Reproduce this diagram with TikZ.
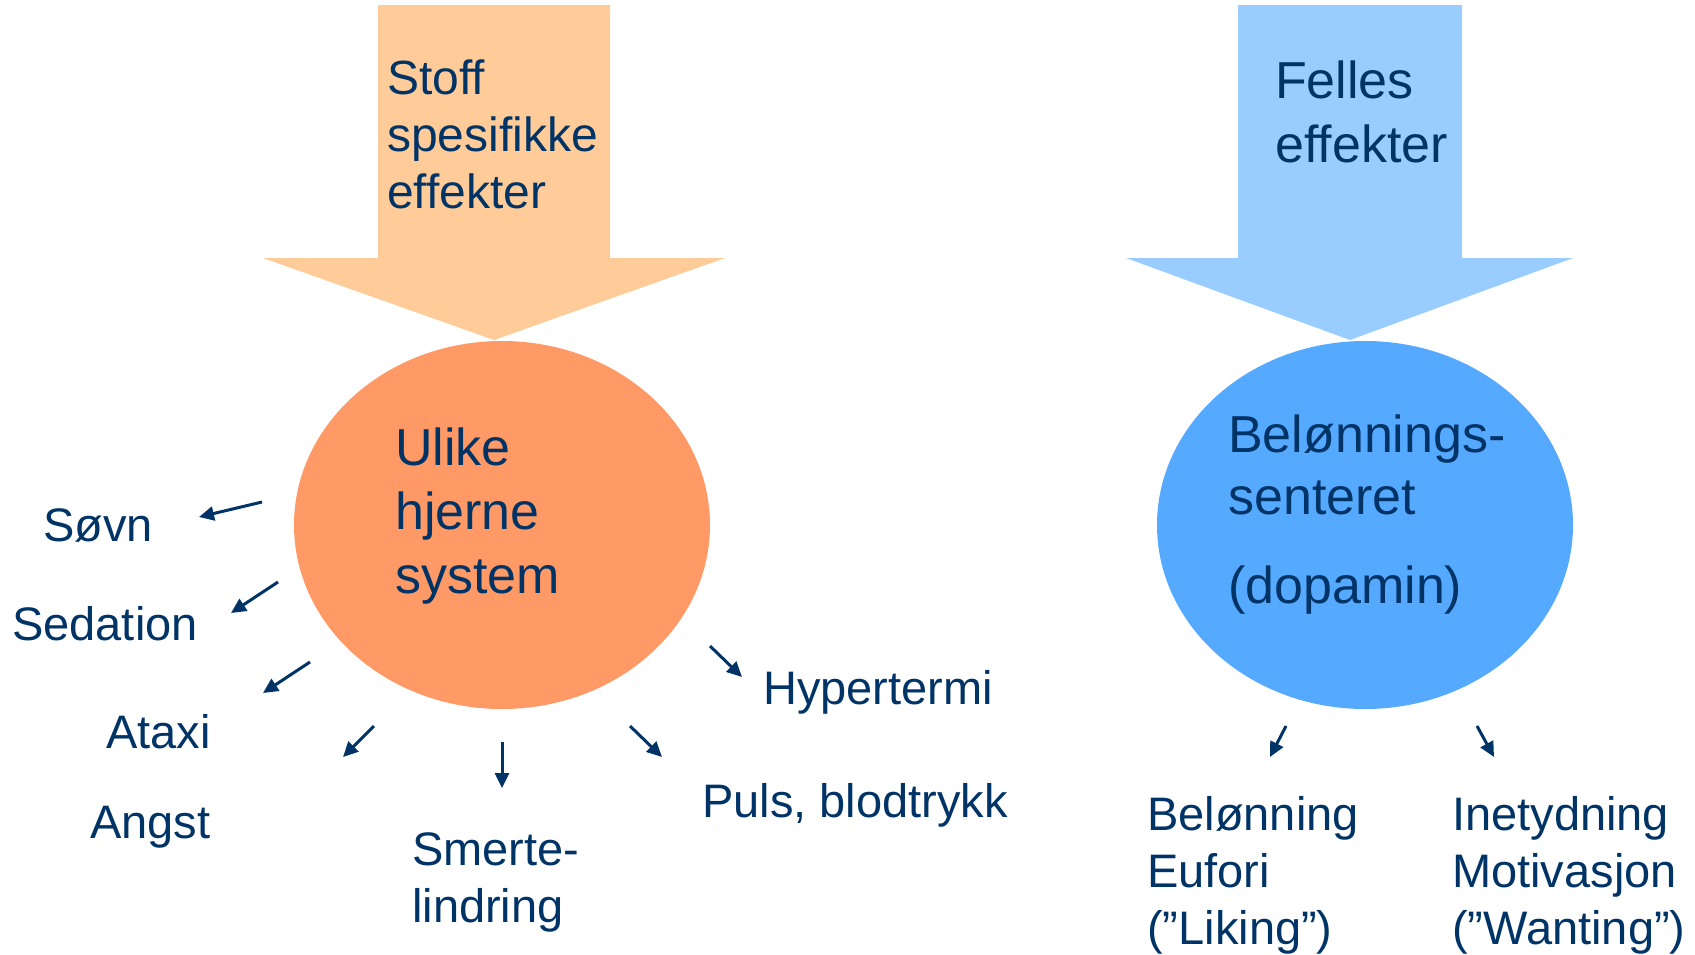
\documentclass[tikz,border=0pt]{standalone}
\usepackage{fontspec}
\setmainfont{Liberation Sans}
\usetikzlibrary{arrows.meta,shapes.geometric}
\definecolor{txt}{HTML}{003366}
\definecolor{lorange}{HTML}{FFCC99}
\definecolor{dorange}{HTML}{FF9966}
\definecolor{lblue}{HTML}{99CCFF}
\definecolor{dblue}{HTML}{55AAFF}
\begin{document}
\begin{tikzpicture}[x=1pt,y=-1pt,
  lbl/.style={inner sep=0pt, anchor=base west, align=left, text=txt, font=\fontsize{47}{57}\selectfont},
  big/.style={lbl, font=\fontsize{52}{64}\selectfont},
  blob/.style={ellipse, inner sep=0pt, minimum width=416pt, minimum height=368pt},
  eff/.style={draw=txt, line width=3pt, -{Triangle[length=15pt,width=14pt]}},
]
\useasboundingbox (0,0) rectangle (1695,954);
% big arrows
\fill[lorange] (378,5) -- (610,5) -- (610,258) -- (725,258) -- (494,340) -- (263,258) -- (378,258) -- cycle;
\fill[lblue] (1238,5) -- (1462,5) -- (1462,258) -- (1573,258) -- (1350,340) -- (1126,258) -- (1238,258) -- cycle;
% ellipses
\node[blob, fill=dorange] (sys) at (502,525) {};
\node[blob, fill=dblue] (bel) at (1365,525) {};
% texts (base anchor = baseline of the last line)
\node[lbl, font=\fontsize{48}{57}\selectfont] (stoff) at (387,208) {Stoff\\spesifikke\\effekter};
\node[big] (felles) at (1275,162) {Felles\\effekter};
\node[big] (ulike) at (395,593) {Ulike\\hjerne\\system};
\node[big, font=\fontsize{52}{62}\selectfont] (belt) at (1228,603) {Belønnings-\\senteret\\[27pt](dopamin)};
\node[lbl] (sovn) at (43,541) {Søvn};
\node[lbl] (sed) at (12,640) {Sedation};
\node[lbl] (ataxi) at (106,748) {Ataxi};
\node[lbl] (angst) at (90,838) {Angst};
\node[lbl] (smerte) at (412,922) {Smerte-\\lindring};
\node[lbl] (puls) at (702,817) {Puls, blodtrykk};
\node[lbl] (hyper) at (763,704) {Hypertermi};
\node[lbl] (like) at (1147,944) {Belønning\\Eufori\\(”Liking”)};
\node[lbl] (want) at (1452,944) {Inetydning\\Motivasjon\\(”Wanting”)};
% small arrows
\coordinate (a1s) at (262,502); \coordinate (a1e) at (199,517);
\coordinate (a2s) at (278,582); \coordinate (a2e) at (231,613);
\coordinate (a3s) at (310,662); \coordinate (a3e) at (263,693);
\coordinate (a4s) at (374,726); \coordinate (a4e) at (343,757);
\coordinate (a5s) at (502,742); \coordinate (a5e) at (502,788);
\coordinate (a6s) at (630,726); \coordinate (a6e) at (662,757);
\coordinate (a7s) at (710,646); \coordinate (a7e) at (742,677);
\coordinate (b1s) at (1286,726); \coordinate (b1e) at (1270,757);
\coordinate (b2s) at (1477,726); \coordinate (b2e) at (1494,757);
\foreach \p in {a1,a2,a3,a4,a5,a6,a7,b1,b2}
  \draw[eff] (\p s) -- (\p e);
\end{tikzpicture}
\end{document}
